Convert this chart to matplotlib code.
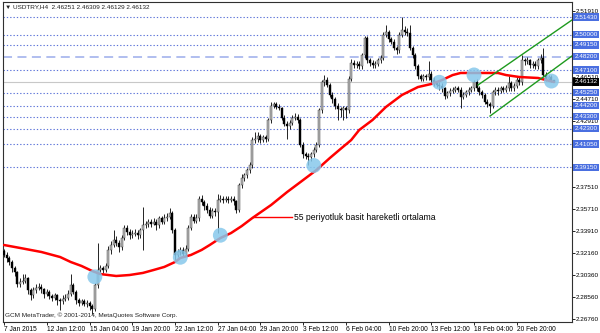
import matplotlib
import matplotlib.pyplot as plt
import matplotlib.transforms as mtransforms

matplotlib.use("Agg")
plt.rcParams["font.family"] = ["Liberation Sans", "DejaVu Sans"]

# USDTRY H4 bars
first_open = 2.323
closes = [
    2.320, 2.317, 2.314, 2.309, 2.306, 2.296, 2.298, 2.299, 2.301, 2.291,
    2.287, 2.291, 2.293, 2.294, 2.292, 2.288, 2.290, 2.286, 2.285, 2.287,
    2.283, 2.282, 2.284, 2.285, 2.288, 2.295, 2.290, 2.283, 2.281, 2.282,
    2.280, 2.281, 2.278, 2.276, 2.295, 2.308, 2.309, 2.308, 2.311, 2.324,
    2.328, 2.332, 2.330, 2.326, 2.334, 2.342, 2.339, 2.336, 2.337, 2.338,
    2.336, 2.340, 2.344, 2.345, 2.347, 2.345, 2.347, 2.344, 2.350, 2.347,
    2.350, 2.351, 2.354, 2.340, 2.320, 2.322, 2.324, 2.321, 2.325, 2.342,
    2.351, 2.348, 2.350, 2.366, 2.363, 2.360, 2.357, 2.352, 2.356, 2.355,
    2.365, 2.366, 2.365, 2.366, 2.365, 2.366, 2.364, 2.357, 2.377, 2.383,
    2.385, 2.389, 2.393, 2.414, 2.415, 2.417, 2.414, 2.416, 2.415, 2.430,
    2.442, 2.443, 2.441, 2.440, 2.432, 2.427, 2.425, 2.428, 2.432, 2.433,
    2.430, 2.410, 2.402, 2.401, 2.400, 2.402, 2.406, 2.410, 2.438, 2.461,
    2.463, 2.459, 2.451, 2.447, 2.442, 2.439, 2.438, 2.440, 2.438, 2.464,
    2.477, 2.475, 2.476, 2.474, 2.483, 2.497, 2.479, 2.477, 2.475, 2.476,
    2.479, 2.481, 2.500, 2.502, 2.496, 2.494, 2.489, 2.487, 2.500, 2.504,
    2.502, 2.501, 2.489, 2.483, 2.474, 2.466, 2.464, 2.466, 2.465, 2.468,
    2.463, 2.460, 2.459, 2.458, 2.456, 2.450, 2.452, 2.454, 2.455, 2.456,
    2.455, 2.449, 2.451, 2.453, 2.455, 2.456, 2.461, 2.456, 2.453, 2.451,
    2.445, 2.443, 2.442, 2.453, 2.455, 2.454, 2.456, 2.455, 2.456, 2.460,
    2.456, 2.458, 2.463, 2.461, 2.479, 2.478, 2.479, 2.475, 2.476, 2.474,
    2.479, 2.481, 2.467, 2.464, 2.465, 2.4625, 2.46132,
]
highs = [
    2.325, 2.322, 2.319, 2.316, 2.311, 2.307, 2.301, 2.304, 2.304, 2.302,
    2.293, 2.294, 2.296, 2.297, 2.296, 2.293, 2.292, 2.291, 2.288, 2.289,
    2.288, 2.285, 2.287, 2.288, 2.291, 2.304, 2.297, 2.291, 2.285, 2.284,
    2.284, 2.283, 2.282, 2.280, 2.297, 2.330, 2.312, 2.311, 2.313, 2.327,
    2.331, 2.340, 2.335, 2.332, 2.336, 2.344, 2.344, 2.341, 2.340, 2.341,
    2.340, 2.342, 2.359, 2.348, 2.349, 2.349, 2.350, 2.349, 2.352, 2.352,
    2.353, 2.354, 2.358, 2.356, 2.342, 2.325, 2.326, 2.326, 2.328, 2.344,
    2.353, 2.353, 2.353, 2.368, 2.369, 2.365, 2.362, 2.359, 2.358, 2.358,
    2.370, 2.369, 2.368, 2.368, 2.368, 2.368, 2.368, 2.365, 2.379, 2.386,
    2.387, 2.391, 2.396, 2.416, 2.420, 2.420, 2.419, 2.418, 2.418, 2.432,
    2.445, 2.445, 2.445, 2.443, 2.441, 2.434, 2.429, 2.430, 2.434, 2.436,
    2.435, 2.432, 2.412, 2.404, 2.403, 2.404, 2.408, 2.412, 2.440, 2.463,
    2.467, 2.465, 2.460, 2.453, 2.449, 2.444, 2.441, 2.442, 2.442, 2.466,
    2.480, 2.479, 2.478, 2.478, 2.485, 2.499, 2.499, 2.481, 2.479, 2.478,
    2.481, 2.483, 2.502, 2.508, 2.504, 2.498, 2.496, 2.491, 2.502, 2.514,
    2.507, 2.505, 2.508, 2.491, 2.485, 2.476, 2.468, 2.468, 2.468, 2.478,
    2.470, 2.465, 2.462, 2.461, 2.460, 2.457, 2.454, 2.456, 2.457, 2.458,
    2.458, 2.457, 2.453, 2.455, 2.457, 2.458, 2.463, 2.464, 2.458, 2.455,
    2.452, 2.447, 2.445, 2.455, 2.457, 2.457, 2.458, 2.458, 2.459, 2.466,
    2.462, 2.460, 2.466, 2.465, 2.483, 2.481, 2.482, 2.480, 2.478, 2.478,
    2.481, 2.484, 2.489, 2.469, 2.467, 2.467, 2.46309,
]
lows = [
    2.318, 2.314, 2.312, 2.306, 2.303, 2.294, 2.294, 2.296, 2.297, 2.288,
    2.283, 2.285, 2.289, 2.291, 2.289, 2.285, 2.286, 2.284, 2.282, 2.283,
    2.279, 2.275, 2.280, 2.282, 2.283, 2.286, 2.288, 2.280, 2.278, 2.279,
    2.278, 2.277, 2.275, 2.272, 2.274, 2.293, 2.305, 2.305, 2.306, 2.309,
    2.321, 2.326, 2.327, 2.322, 2.324, 2.332, 2.336, 2.333, 2.334, 2.335,
    2.333, 2.334, 2.324, 2.342, 2.343, 2.343, 2.344, 2.340, 2.342, 2.345,
    2.345, 2.348, 2.349, 2.338, 2.316, 2.318, 2.320, 2.319, 2.319, 2.323,
    2.340, 2.346, 2.346, 2.348, 2.361, 2.357, 2.354, 2.350, 2.350, 2.352,
    2.338, 2.363, 2.362, 2.363, 2.362, 2.363, 2.361, 2.354, 2.355, 2.375,
    2.380, 2.383, 2.387, 2.391, 2.411, 2.412, 2.411, 2.412, 2.412, 2.413,
    2.428, 2.440, 2.439, 2.438, 2.430, 2.425, 2.415, 2.423, 2.426, 2.430,
    2.428, 2.408, 2.399, 2.398, 2.393, 2.397, 2.400, 2.404, 2.408, 2.436,
    2.458, 2.457, 2.449, 2.444, 2.439, 2.430, 2.433, 2.430, 2.432, 2.436,
    2.462, 2.473, 2.473, 2.472, 2.472, 2.481, 2.477, 2.474, 2.473, 2.473,
    2.474, 2.477, 2.479, 2.498, 2.494, 2.492, 2.487, 2.484, 2.485, 2.498,
    2.500, 2.499, 2.487, 2.481, 2.472, 2.464, 2.462, 2.462, 2.463, 2.463,
    2.461, 2.458, 2.457, 2.455, 2.453, 2.447, 2.448, 2.450, 2.452, 2.453,
    2.453, 2.440, 2.447, 2.449, 2.451, 2.453, 2.454, 2.454, 2.451, 2.448,
    2.443, 2.441, 2.436, 2.440, 2.451, 2.451, 2.452, 2.453, 2.453, 2.454,
    2.454, 2.454, 2.456, 2.459, 2.459, 2.475, 2.476, 2.473, 2.473, 2.472,
    2.472, 2.477, 2.465, 2.462, 2.462, 2.461, 2.46129,
]

# 55 period simple moving average, read at a number of bars
ma_bars = [0, 6, 14, 21, 25, 29, 33, 36, 39, 42, 47, 52, 56, 60, 64, 66, 70, 74, 77,
           81, 85, 89, 93, 100, 106, 112, 117, 122, 126, 130, 133, 138, 143, 149,
           155, 160, 164, 168, 171, 176, 185, 188, 193, 200, 203, 206]
ma_vals = [2.3280, 2.3256, 2.3223, 2.3182, 2.3141, 2.3109, 2.3068, 2.3043, 2.3035,
           2.3027, 2.3035, 2.3052, 2.3076, 2.3101, 2.3141, 2.3174, 2.3199, 2.3240,
           2.3280, 2.3337, 2.3378, 2.3435, 2.3501, 2.3607, 2.3713, 2.3811, 2.3893,
           2.3991, 2.4065, 2.4138, 2.4220, 2.4302, 2.4408, 2.4506, 2.4571, 2.4596,
           2.4628, 2.4669, 2.4686, 2.4686, 2.4686, 2.4669, 2.4653, 2.4645, 2.4628,
           2.4612]

time_labels = ["7 Jan 2015", "12 Jan 12:00", "15 Jan 04:00", "19 Jan 20:00",
               "22 Jan 12:00", "27 Jan 04:00", "29 Jan 20:00", "3 Feb 12:00",
               "6 Feb 04:00", "10 Feb 20:00", "13 Feb 12:00", "18 Feb 04:00",
               "20 Feb 20:00"]
bars_per_label = 16

price_ticks = [2.51910, 2.46510, 2.44710, 2.42910, 2.37510, 2.35710, 2.33910,
               2.32160, 2.30360, 2.28560, 2.26760]
dotted_levels = [2.51430, 2.50000, 2.49150, 2.47100, 2.45250, 2.44200, 2.43300,
                 2.42300, 2.41050, 2.39150]
dashed_level = 2.48200
last_price = 2.46132

touch_bars = [34, 66, 81, 116, 163, 176, 205]
touch_prices = [2.302, 2.318, 2.336, 2.393, 2.461, 2.467, 2.462]

channel_upper = [(177.5, 2.4588), (212.7, 2.5119)]
channel_lower = [(182.0, 2.4334), (212.7, 2.4825)]

opens = [first_open] + closes[:-1]

fig = plt.figure(figsize=(6, 3.33), dpi=100)
ax = fig.add_axes([3 / 600, 11 / 333, 569 / 600, 320 / 333])
ax.set_xlim(-0.4, 212.7)
ax.set_ylim(2.2651, 2.5266)

# horizontal levels
for lvl in dotted_levels:
    ax.axhline(lvl, color="#5d74d9", linestyle=(0, (1.2, 1.8)), linewidth=0.8, zorder=1)
ax.axhline(dashed_level, color="#aab9ee", linestyle=(0, (5, 3)), linewidth=1.3, zorder=1)
ax.axhline(last_price, color="#c8c8c8", linewidth=0.8, zorder=1)

# candles
xs = list(range(len(closes)))
ax.vlines(xs, lows, highs, color="black", linewidth=0.6, zorder=3)
for i, (o, c) in enumerate(zip(opens, closes)):
    bottom = min(o, c)
    height = max(abs(c - o), 0.0004)
    if c >= o:
        ax.bar(i, height, bottom=bottom, width=0.75, color="#b8b8b8",
               edgecolor="#303030", linewidth=0.3, zorder=4)
    else:
        ax.bar(i, height, bottom=bottom, width=0.75, color="black",
               edgecolor="black", linewidth=0.3, zorder=4)

# moving average
ax.plot(ma_bars, ma_vals, color="#ff0000", linewidth=1.8, zorder=5,
        solid_capstyle="round")

# touch points
ax.scatter(touch_bars, touch_prices, s=115, color="#87c8eb", alpha=0.85,
           edgecolors="none", zorder=6)

# trend channel
for line in (channel_upper, channel_lower):
    ax.plot([p[0] for p in line], [p[1] for p in line], color="#1e9a1e",
            linewidth=1.0, zorder=5)

# annotation of the moving average
ax.plot([93.3, 107.9], [2.3509, 2.3509], color="#ff0000", linewidth=1.0, zorder=5)
ax.text(108.7, 2.3509, "55 periyotluk basit hareketli ortalama", fontsize=6.2,
        va="center", ha="left", color="black", zorder=7)

# texts
ax.text(0.004, 0.984, "\u25bc USDTRY,H4  2.46251 2.46309 2.46129 2.46132",
        transform=ax.transAxes, fontsize=4.6, color="#202020", va="center", ha="left")
ax.text(0.004, 0.022, "GCM MetaTrader, \u00a9 2001-2014, MetaQuotes Software Corp.",
        transform=ax.transAxes, fontsize=4.6, color="#202020", va="center", ha="left")

# axes
for side in ["left", "right", "top", "bottom"]:
    ax.spines[side].set_color("#303030")
    ax.spines[side].set_linewidth(0.8)
ax.yaxis.tick_right()
ax.set_yticks(price_ticks)
ax.set_yticklabels([f"{v:.5f}" for v in price_ticks])
ax.tick_params(axis="y", length=2, width=0.6, pad=1, labelsize=4.6, direction="out")
ax.set_xticks([i * bars_per_label for i in range(len(time_labels))])
ax.set_xticklabels(time_labels, ha="left")
ax.tick_params(axis="x", length=2, width=0.6, pad=1, labelsize=4.8, direction="out")

trans = mtransforms.blended_transform_factory(ax.transAxes, ax.transData)
for lvl in dotted_levels + [dashed_level]:
    ax.text(1.004, lvl, f"{lvl:.5f}", transform=trans, fontsize=4.6, color="white",
            va="center", ha="left", clip_on=False, zorder=10,
            bbox=dict(boxstyle="square,pad=0.18", facecolor="#4a6fe0", edgecolor="none"))
ax.text(1.004, last_price, f"{last_price:.5f}", transform=trans, fontsize=4.6,
        color="white", va="center", ha="left", clip_on=False, zorder=11,
        bbox=dict(boxstyle="square,pad=0.18", facecolor="black", edgecolor="none"))

fig.savefig("out.png", dpi=100)
plt.close(fig)
